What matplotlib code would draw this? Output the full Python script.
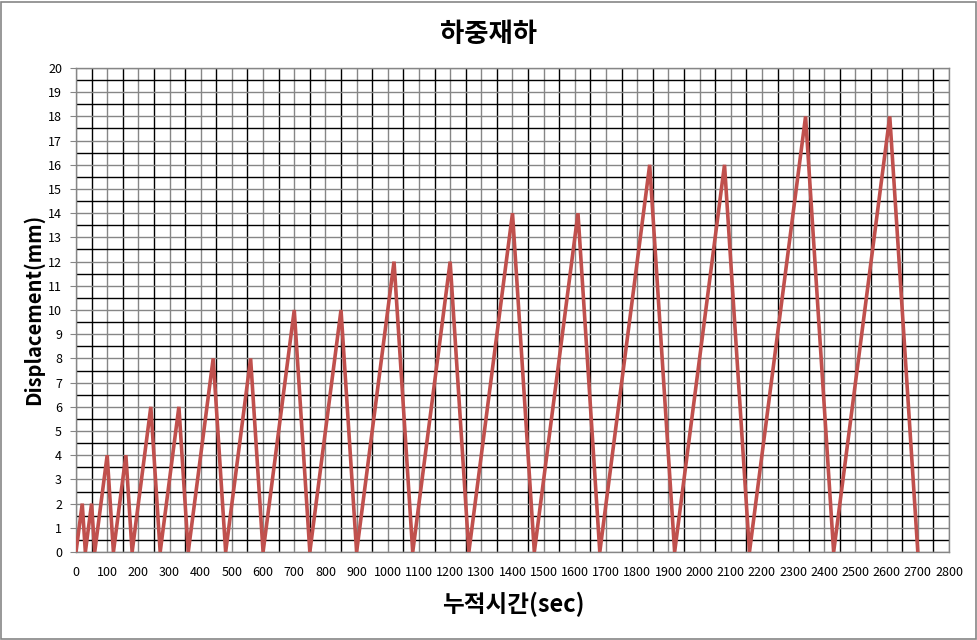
import matplotlib.pyplot as plt
from matplotlib.patches import Rectangle

plt.rcParams['font.family'] = ['Noto Sans CJK KR', 'DejaVu Sans']

# time (sec) and displacement (mm)
time_sec = [0, 20, 30, 50, 60, 100, 120, 160, 180, 240, 270, 330, 360,
            440, 480, 560, 600, 700, 750, 850, 900, 1020, 1080, 1200, 1260,
            1400, 1470, 1610, 1680, 1840, 1920, 2080, 2160, 2340, 2430,
            2610, 2700]
disp_mm = [0, 2, 0, 2, 0, 4, 0, 4, 0, 6, 0, 6, 0,
           8, 0, 8, 0, 10, 0, 10, 0, 12, 0, 12, 0,
           14, 0, 14, 0, 16, 0, 16, 0, 18, 0,
           18, 0]

x_ticks = list(range(0, 2801, 100))
y_ticks = list(range(0, 21))

fig = plt.figure(figsize=(9.78, 6.4), dpi=100)
ax = fig.add_axes([76 / 978, 1 - 552 / 640, 873 / 978, 484 / 640])

# grid: grey on tick positions, black halfway between
for xv in x_ticks:
    ax.axvline(xv, color='#868686', lw=1.0, zorder=1)
for xv in range(50, 2800, 100):
    ax.axvline(xv, color='black', lw=1.0, zorder=1)
for yv in y_ticks:
    ax.axhline(yv, color='#868686', lw=1.0, zorder=1)
for i in range(20):
    ax.axhline(i + 0.5, color='black', lw=1.0, zorder=1)

ax.plot(time_sec, disp_mm, color='#C0504D', lw=2.6, zorder=3,
        solid_joinstyle='miter')

ax.set_xlim(0, 2800)
ax.set_ylim(0, 20)
ax.set_xticks(x_ticks)
ax.set_yticks(y_ticks)
ax.tick_params(axis='x', length=0, pad=10, labelsize=9)
ax.tick_params(axis='y', length=4, color='#868686', pad=6, labelsize=9)
for s in ax.spines.values():
    s.set_color('#868686')
    s.set_linewidth(1.0)

fig.text(489 / 978, 1 - 34 / 640, '하중재하', ha='center', va='center',
         fontsize=19, fontweight='bold')
fig.text(513 / 978, 1 - 604 / 640, '누적시간(sec)', ha='center', va='center',
         fontsize=17, fontweight='bold')
fig.text(33 / 978, 1 - 309 / 640, 'Displacement(mm)', ha='center', va='center',
         rotation=90, fontsize=14.5, fontweight='bold')

fig.patches.append(Rectangle((0.5 / 978, 1.5 / 640), 976 / 978, 637 / 640,
                             transform=fig.transFigure, fill=False,
                             edgecolor='#868686', lw=1.2))

fig.savefig('out.png', dpi=100)
